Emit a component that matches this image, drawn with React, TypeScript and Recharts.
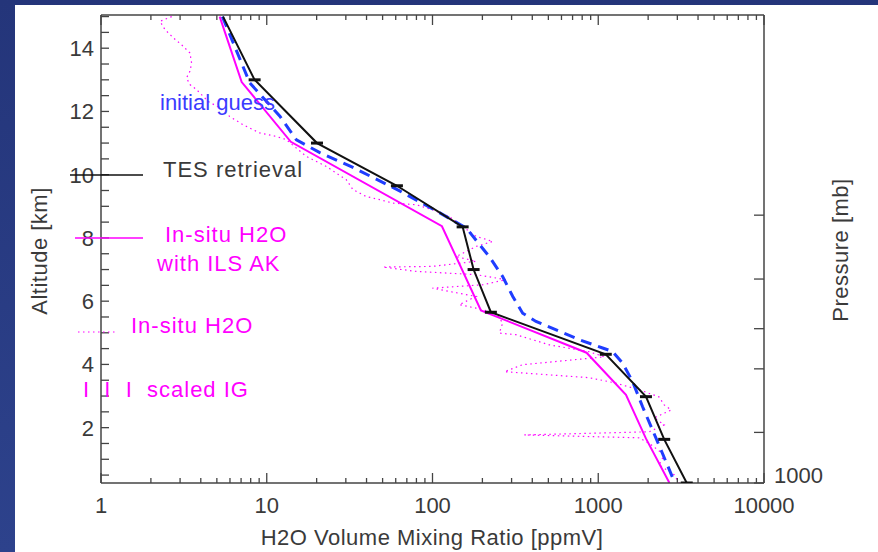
import React from 'react';
import { LineChart, Line, XAxis, YAxis } from 'recharts';

const FONT = '"Liberation Sans", Arial, sans-serif';
const INK = '#3a3a3a';
const AXIS = '#444';

// log axis: labelled decades plus unlabelled minor ticks
const xDecades = [1, 10, 100, 1000, 10000];
const xMinor = [
  2, 3, 4, 5, 6, 7, 8, 9,
  20, 30, 40, 50, 60, 70, 80, 90,
  200, 300, 400, 500, 600, 700, 800, 900,
  2000, 3000, 4000, 5000, 6000, 7000, 8000, 9000,
];

// altitude ticks every 0.5 km, labels every 2 km
const altTicks = [
  0.5, 1, 1.5, 2, 2.5, 3, 3.5, 4, 4.5, 5, 5.5, 6, 6.5, 7, 7.5,
  8, 8.5, 9, 9.5, 10, 10.5, 11, 11.5, 12, 12.5, 13, 13.5, 14, 14.5, 15,
];
const altLabels = [2, 4, 6, 8, 10, 12, 14];

// pressure axis (right) tick altitudes and their labels
const pressureAlt = [8.72, 6.7, 5.13, 3.86, 1.85, 0.25];
const pressureLabels = ['', '', '', '', '', '1000'];

// TES retrieval (black)
const tesAlt = [15, 13, 11, 9.65, 8.35, 7.0, 5.65, 4.32, 2.98, 1.63, 0.25];
const tesVmr = [5.45, 8.45, 20.1, 61, 152, 177, 225, 1110, 1940, 2500, 3420];

// initial guess (blue dashed)
const guessAlt = [15, 12.9, 11.85, 11.1, 10.7, 10.23, 9.49, 8.8, 8.31, 7.41, 6.78, 6.15, 5.62, 5.36, 4.78, 4.52, 4.41, 4.04, 3.46, 2.67, 1.93, 1.19, 0.25];
const guessVmr = [5.4, 7.9, 12.0, 15.1, 20.9, 33.1, 63.3, 110, 160, 220, 265, 305, 350, 421, 769, 1062, 1219, 1403, 1611, 1849, 2124, 2438, 2900];

// in-situ H2O with ILS AK (magenta solid)
const ilsAlt = [15, 12.93, 11.04, 8.37, 5.71, 4.37, 3.04, 1.66, 0.25];
const ilsVmr = [5.2, 7.06, 13.97, 114, 196, 850, 1470, 1938, 2690];

// raw in-situ H2O (magenta dotted)
const insituAlt = [
  15.0, 14.85, 14.59, 14.33, 14.11, 13.85, 13.53, 13.27, 13.06, 12.85, 12.69, 12.32, 12.11,
  11.84, 11.58, 11.32, 11.21, 11.11, 10.58, 10.26, 9.84, 9.53, 9.31, 9.21, 9.1, 9.05, 8.89,
  8.68, 8.36, 8.05, 7.89, 7.73, 7.41, 7.26, 7.1, 7.08, 6.94, 6.84, 6.68, 6.52, 6.41, 6.31,
  6.15, 5.89, 5.78, 5.62, 5.31, 4.99, 4.94, 4.62, 4.4, 4.24, 3.99, 3.77, 3.58, 3.42, 3.2,
  2.97, 2.72, 2.56, 2.31, 2.09, 1.87, 1.77, 1.68, 1.46, 1.14, 0.82, 0.51, 0.25,
];
const insituVmr = [
  2.67, 2.27, 2.43, 2.73, 3.06, 3.44, 3.52, 3.44, 3.28, 3.44, 3.77, 4.43, 5.21,
  5.98, 7.2, 9.07, 11.4, 13.1, 17.3, 22.9, 30.2, 33.1, 39.8, 48.1, 57.7, 79.8, 100,
  126, 152, 183, 231, 183, 139, 183, 100, 50.2, 79.8, 183, 278, 201, 100, 126,
  183, 145, 183, 242, 265, 253, 319, 507, 883, 1087, 349, 272, 883, 1248, 1766,
  2329, 2500, 2755, 2175, 2500, 2030, 358, 1766, 2084, 2500, 2329, 2870, 3076,
];

const toRows = (alt: number[], vmr: number[]) => alt.map((a, i) => ({ alt: a, v: vmr[i] }));

const tesData = toRows(tesAlt, tesVmr);
const guessData = toRows(guessAlt, guessVmr);
const ilsData = toRows(ilsAlt, ilsVmr);
const insituData = toRows(insituAlt, insituVmr);

const textStyle = { fontFamily: FONT, fontSize: 22, fill: INK };
const legendStyle = { ...textStyle, letterSpacing: 1 };

const BottomTick = (props: any) => {
  const { x, y, payload } = props;
  const major = xDecades.includes(payload.value);
  return (
    <g>
      <line x1={x} x2={x} y1={y} y2={y - (major ? 10 : 5)} stroke={AXIS} strokeWidth={1.3} />
      {major && (
        <text x={x} y={y + 30} textAnchor="middle" style={textStyle}>
          {payload.value}
        </text>
      )}
    </g>
  );
};

const TopTick = (props: any) => {
  const { x, y, payload } = props;
  const major = xDecades.includes(payload.value);
  return <line x1={x} x2={x} y1={y} y2={y + (major ? 10 : 5)} stroke={AXIS} strokeWidth={1.3} />;
};

const LeftTick = (props: any) => {
  const { x, y, payload } = props;
  const label = altLabels.includes(payload.value);
  return (
    <g>
      <line x1={x} x2={x + 8} y1={y} y2={y} stroke={AXIS} strokeWidth={1.3} />
      {label && (
        <text x={x - 7} y={y + 8} textAnchor="end" style={textStyle}>
          {payload.value}
        </text>
      )}
    </g>
  );
};

const RightTick = (props: any) => {
  const { x, y, payload, index } = props;
  const label = pressureLabels[index];
  return (
    <g>
      <line x1={x} x2={x - 10} y1={y} y2={y} stroke={AXIS} strokeWidth={1.3} />
      {label && (
        <text x={x + 10} y={y} textAnchor="start" style={textStyle}>
          {label}
        </text>
      )}
    </g>
  );
};

const TesMark = (props: any) => {
  const { cx, cy, index } = props;
  if (index === 0 || cx == null) return <g key={`m${index}`} />;
  return <line key={`m${index}`} x1={cx - 6} x2={cx + 6} y1={cy} y2={cy} stroke="#111" strokeWidth={3} />;
};

export default function App() {
  return (
    <div style={{ position: 'absolute', left: 0, top: 0, width: 878, height: 552, background: 'linear-gradient(180deg, #24357a, #2d428c)', overflow: 'hidden' }}>
      <div style={{ position: 'absolute', left: 15, top: 5, right: 0, bottom: 0, background: '#fff' }} />
      <div style={{ position: 'absolute', left: 0, top: 0 }}>
        <LineChart width={878} height={552} margin={{ top: 14, right: 54, bottom: 39, left: 41 }}>
          <XAxis
            type="number" dataKey="v" scale="log" domain={[1, 10000]} allowDataOverflow
            ticks={[...xDecades, ...xMinor]} interval={0} height={30}
            tickSize={0} tickMargin={0} tick={BottomTick} tickLine={false}
            axisLine={{ stroke: AXIS, strokeWidth: 1.5 }}
          />
          <XAxis
            xAxisId="top" orientation="top" type="number" dataKey="v" scale="log" domain={[1, 10000]} allowDataOverflow
            ticks={[...xDecades, ...xMinor]} interval={0} height={1}
            tickSize={0} tickMargin={0} tick={TopTick} tickLine={false}
            axisLine={{ stroke: AXIS, strokeWidth: 1.5 }}
          />
          <YAxis
            type="number" dataKey="alt" domain={[0.25, 15.05]} allowDataOverflow
            ticks={altTicks} interval={0} width={60}
            tickSize={0} tickMargin={0} tick={LeftTick} tickLine={false}
            axisLine={{ stroke: AXIS, strokeWidth: 1.5 }}
          />
          <YAxis
            yAxisId="right" orientation="right" type="number" domain={[0.25, 15.05]} allowDataOverflow
            ticks={pressureAlt} interval={0} width={60}
            tickSize={0} tickMargin={0} tick={RightTick} tickLine={false}
            axisLine={{ stroke: AXIS, strokeWidth: 1.5 }}
          />
          <Line data={insituData} dataKey="alt" type="linear" stroke="#ff00ff" strokeWidth={1.2} strokeDasharray="1.5 3.5" dot={false} isAnimationActive={false} />
          <Line data={ilsData} dataKey="alt" type="linear" stroke="#ff00ff" strokeWidth={2} dot={false} isAnimationActive={false} />
          <Line data={guessData} dataKey="alt" type="linear" stroke="#1f3dff" strokeWidth={3} strokeDasharray="11 7" dot={false} isAnimationActive={false} />
          <Line data={tesData} dataKey="alt" type="linear" stroke="#111" strokeWidth={2} dot={TesMark} isAnimationActive={false} />
        </LineChart>
      </div>
      <svg width={878} height={552} style={{ position: 'absolute', left: 0, top: 0, pointerEvents: 'none' }}>
        <text x={160} y={110} style={{ ...textStyle, fill: '#3b3bff' }}>initial guess</text>
        <line x1={70} x2={143} y1={175} y2={175} stroke="#111" strokeWidth={1.5} />
        <text x={163} y={177} style={legendStyle}>TES retrieval</text>
        <line x1={75} x2={143} y1={238} y2={238} stroke="#ff00ff" strokeWidth={1.5} />
        <text x={165} y={242} style={{ ...legendStyle, fill: '#ff00ff' }}>In-situ H2O</text>
        <text x={157} y={271} style={{ ...legendStyle, fill: '#ff00ff' }}>with ILS AK</text>
        <line x1={78} x2={117} y1={332} y2={332} stroke="#ff00ff" strokeWidth={1.2} strokeDasharray="1.5 3.5" />
        <text x={131} y={333} style={{ ...legendStyle, fill: '#ff00ff' }}>In-situ H2O</text>
        <text x={83} y={397} style={{ ...legendStyle, fill: '#ff00ff', whiteSpace: 'pre' }}>I  I  I  scaled IG</text>
        <text x={432} y={545} textAnchor="middle" style={{ ...textStyle, letterSpacing: 0.5 }}>H2O Volume Mixing Ratio [ppmV]</text>
        <text transform="translate(47,251) rotate(-90)" textAnchor="middle" style={{ ...textStyle, letterSpacing: 0.5 }}>Altitude [km]</text>
        <text transform="translate(848,250) rotate(-90)" textAnchor="middle" style={{ ...textStyle, letterSpacing: 0.5 }}>Pressure [mb]</text>
      </svg>
    </div>
  );
}
